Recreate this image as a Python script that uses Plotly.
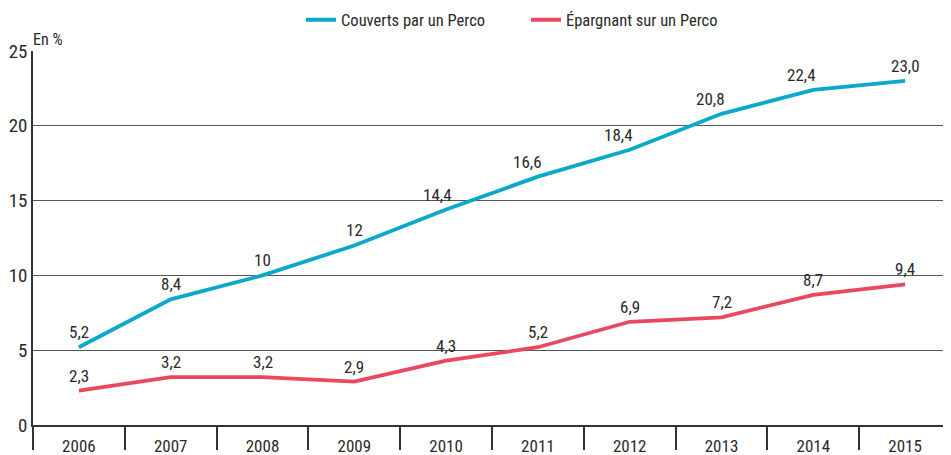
import plotly.graph_objects as go

years = ["2006", "2007", "2008", "2009", "2010", "2011", "2012", "2013", "2014", "2015"]
couverts = [5.2, 8.4, 10, 12, 14.4, 16.6, 18.4, 20.8, 22.4, 23.0]
couverts_labels = ["5,2", "8,4", "10", "12", "14,4", "16,6", "18,4", "20,8", "22,4", "23,0"]
epargnant = [2.3, 3.2, 3.2, 2.9, 4.3, 5.2, 6.9, 7.2, 8.7, 9.4]
epargnant_labels = ["2,3", "3,2", "3,2", "2,9", "4,3", "5,2", "6,9", "7,2", "8,7", "9,4"]
y_ticks = [0, 5, 10, 15, 20, 25]

FONT = "Roboto Condensed, Liberation Sans Narrow, sans-serif"
BLUE = "#0aa8c9"
RED = "#e9485f"
TXT = "#2a2a2a"

# page body has an 8px default margin: figure is sized/offset to compensate
W, H = 943, 447

fig = go.Figure()
fig.add_trace(go.Scatter(x=years, y=couverts, mode="lines", name="Couverts par un Perco",
                         line=dict(color=BLUE, width=3.8)))
fig.add_trace(go.Scatter(x=years, y=epargnant, mode="lines", name="Épargnant sur un Perco",
                         line=dict(color=RED, width=3.8)))

blue_shift = [0, 0, 0, 0, -9, -10, -11, -11, -12, 0]
for i, (v, lab) in enumerate(zip(couverts, couverts_labels)):
    fig.add_annotation(x=i, y=v, text=lab, showarrow=False, yanchor="bottom",
                       yshift=3, xshift=blue_shift[i], font=dict(family=FONT, size=17, color=TXT))
for i, (v, lab) in enumerate(zip(epargnant, epargnant_labels)):
    fig.add_annotation(x=i, y=v, text=lab, showarrow=False, yanchor="bottom",
                       yshift=3, font=dict(family=FONT, size=17, color=TXT))

fig.add_annotation(x=0, xref="paper", y=25, yref="y", text="En %", showarrow=False,
                   xanchor="left", yanchor="bottom", xshift=-2, yshift=0,
                   font=dict(family=FONT, size=16, color=TXT))

fig.update_layout(
    width=W, height=H,
    margin=dict(l=25, r=0, t=43, b=30, autoexpand=False),
    paper_bgcolor="white", plot_bgcolor="white",
    font=dict(family=FONT, size=17, color=TXT),
    showlegend=True,
    legend=dict(orientation="h", x=293 / W, xref="container", xanchor="left",
                y=1 - 12 / H, yref="container", yanchor="middle",
                font=dict(family=FONT, size=16.5, color=TXT), entrywidth=180),
)
fig.update_xaxes(type="category", tickson="boundaries", ticks="outside", ticklen=23,
                 tickcolor="#333333", tickwidth=1.5, showgrid=False,
                 showline=True, linecolor="#333333", linewidth=1.5,
                 ticklabelstandoff=5, tickfont=dict(family=FONT, size=17, color=TXT),
                 range=[-0.5, 9.5])
fig.update_yaxes(range=[0, 25], tickvals=y_ticks, showgrid=True, gridcolor="#555555",
                 gridwidth=1, zeroline=False, showline=True, linecolor="#333333", linewidth=1.5,
                 ticks="", tickfont=dict(family=FONT, size=19, color=TXT))

fig.write_html("out.html")
